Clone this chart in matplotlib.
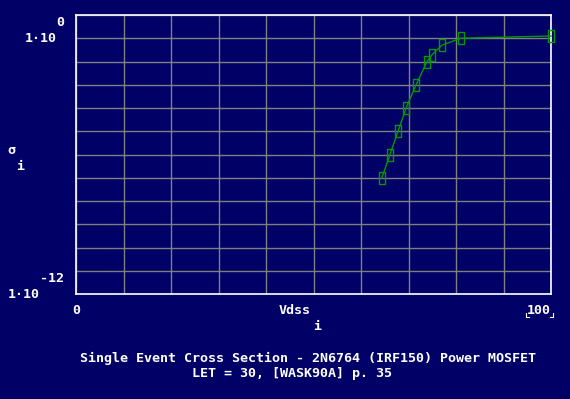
import matplotlib
matplotlib.use("Agg")
import matplotlib.pyplot as plt
import numpy as np
from matplotlib.lines import Line2D

# data (Mathcad-style plot)
vdss = [64.4, 66.1, 67.8, 69.5, 71.6, 73.9, 74.9, 77.0, 81.0, 100.0]
sigma = [1e-7, 1e-6, 1e-5, 1e-4, 1e-3, 1e-2, 1.9e-2, 5e-2, 1e-1, 1.25e-1]

X_MIN, X_MAX = 0, 100
Y_MIN, Y_MAX = 1e-12, 1e0
x_grid = np.arange(0, 101, 10)
y_grid = [10.0 ** k for k in range(-12, 1)]

BG = "#000066"
GRID = "#808080"
LINE = "#009900"
W, H = 570, 399

plt.rcParams["font.family"] = ["DejaVu Sans Mono", "DejaVu Sans"]
plt.rcParams["font.weight"] = "bold"
FS = 9.6

fig = plt.figure(figsize=(W / 100, H / 100), dpi=100, facecolor=BG)
ax = fig.add_axes([76 / W, 1 - 294 / H, (551 - 76) / W, (294 - 15) / H])
ax.set_facecolor(BG)

ax.set_yscale("log")
ax.set_xlim(X_MIN, X_MAX)
ax.set_ylim(Y_MIN, Y_MAX)
ax.set_xticks(x_grid)
ax.set_yticks(y_grid)
ax.yaxis.set_minor_locator(matplotlib.ticker.NullLocator())
ax.tick_params(which="both", length=0, labelleft=False, labelbottom=False)
ax.grid(True, color=GRID, lw=1.0)
for s in ax.spines.values():
    s.set_color("white")
    s.set_linewidth(1.2)

rect = [(-0.5, -1), (0.5, -1), (0.5, 1), (-0.5, 1), (-0.5, -1)]
ax.plot(vdss, sigma, color=LINE, lw=1.0, marker=rect, ms=8.5,
        mfc="none", mec=LINE, mew=1.0, zorder=3, clip_on=False)


def label(x, y, s, **kw):
    fig.text(x / W, 1 - y / H, s, color="white", fontsize=FS,
             fontweight="bold", ha="left", va="center", **kw)


# y-axis limits
label(25, 38, "1·10")
label(56, 22, "0")
label(40, 279, "-12")
label(8, 294, "1·10")

# x-axis limits and name
label(72, 310, "0")
label(527, 310, "100")
label(279, 310, "Vdss")
label(313, 326, "i")

# y-axis name
label(7, 151, "σ")
label(16, 166, "i")

# caption
label(80, 358, "Single Event Cross Section - 2N6764 (IRF150) Power MOSFET")
label(192, 374, "LET = 30, [WASK90A] p. 35")

# selection corners around the 100 label
for xs, ys in [((526, 526, 529), (313, 317, 317)), ((553, 553, 550), (313, 317, 317))]:
    fig.add_artist(Line2D([x / W for x in xs], [1 - y / H for y in ys],
                          color="white", lw=0.8))

fig.savefig("out.png", dpi=100, facecolor=BG)
